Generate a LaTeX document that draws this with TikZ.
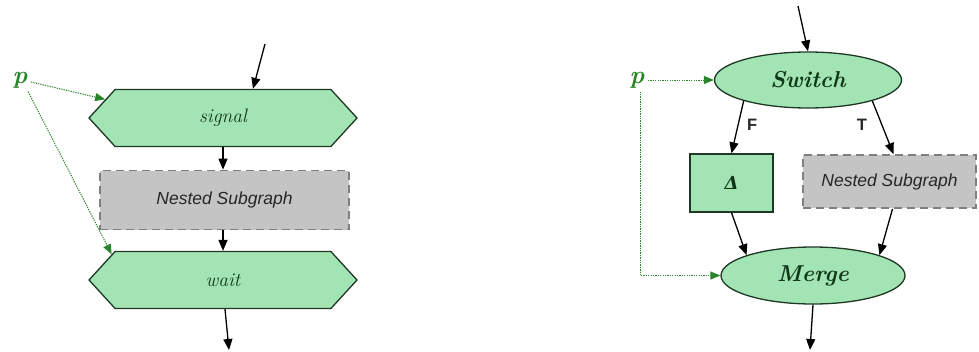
\documentclass[tikz,border=0pt]{standalone}
\usepackage{fontspec}
\setsansfont{Liberation Sans}
\newfontfamily\deltafont{DejaVu Serif}
\usetikzlibrary{shapes.geometric,shapes.symbols,arrows.meta,calc}
\definecolor{mint}{HTML}{A3E4B5}
\definecolor{edgegreen}{HTML}{1F3824}
\definecolor{txtgreen}{HTML}{0F3819}
\definecolor{boxgray}{HTML}{C4C4C4}
\definecolor{dashgray}{HTML}{7F7F7F}
\definecolor{pgreen}{HTML}{2A852A}
\begin{document}
\begin{tikzpicture}[x=1pt,y=-1pt,
  hexbox/.style={signal, signal to=east and west, signal pointer angle=95,
    draw=edgegreen, fill=mint, line width=1.3pt, minimum width=268pt,
    minimum height=57pt, inner sep=0pt, text=txtgreen,
    font=\fontsize{19.5}{21}\selectfont\itshape},
  ovalbox/.style={ellipse, draw=edgegreen, fill=mint, line width=1.3pt,
    inner sep=0pt, text=txtgreen,
    font=\fontsize{23}{25}\selectfont\bfseries\itshape},
  sqbox/.style={rectangle, draw=edgegreen, fill=mint, line width=1.3pt,
    inner sep=0pt, text=txtgreen},
  nestbox/.style={rectangle, draw=dashgray, fill=boxgray, line width=1.8pt,
    dash pattern=on 8pt off 5pt, inner sep=0pt, text=black!85,
    font=\sffamily\itshape\fontsize{17.5}{19}\selectfont},
  plabel/.style={text=pgreen, font=\fontsize{25}{27}\selectfont\bfseries\itshape},
  edgelabel/.style={font=\sffamily\bfseries\fontsize{16.5}{18}\selectfont, text=black!85},
  arr/.style={-{Triangle[length=11pt,width=9pt]}, line width=1.3pt, black},
  dotarr/.style={-{Triangle[length=10pt,width=8pt]}, pgreen, line width=1pt,
    dash pattern=on 1.3pt off 1.1pt},
]
\useasboundingbox (0,0) rectangle (979,351);

% left diagram
\node[hexbox] (sig) at (223,118) {signal};
\node[nestbox, minimum width=249pt, minimum height=59pt] (ns1) at (224.5,200) {Nested Subgraph};
\node[hexbox] (wait) at (223,280) {wait};
\node[plabel] (pl) at (20,80) {p};
\coordinate (in1) at (265,44);
\coordinate (out1) at (229,350);

\draw[arr] (in1) -- ([xshift=30pt]sig.north);
\draw[arr] (sig.south) -- (sig.south |- ns1.north);
\draw[arr] (ns1.south -| wait.north) -- (wait.north);
\draw[arr] ([xshift=2pt]wait.south) -- (out1);
\draw[dotarr] ([yshift=-2pt]pl.east) -- (sig.171);
\draw[dotarr] (pl.-55) -- (wait.167);

% right diagram
\node[ovalbox, minimum width=187pt, minimum height=56pt] (sw) at (808,80) {Switch};
\node[sqbox, minimum width=83pt, minimum height=58pt] (delta) at (731.5,183)
  {\deltafont\bfseries\itshape\fontsize{18}{20}\selectfont Δ};
\node[nestbox, minimum width=173pt, minimum height=53pt] (ns2) at (889.5,181.5) {Nested Subgraph};
\node[ovalbox, minimum width=184pt, minimum height=57pt] (mg) at (813,275.5) {Merge};
\node[plabel] (pr) at (637,80) {p};
\coordinate (in2) at (798,6);
\coordinate (out2) at (810,350);

\draw[arr] (in2) -- (sw.north);
\draw[arr] (sw.198) -- node[edgelabel, right, pos=0.45, xshift=5pt] {F} (delta.north);
\draw[arr] (sw.-18) -- node[edgelabel, left, pos=0.45, xshift=-11pt] {T} ([xshift=4pt]ns2.north);
\draw[arr] (delta.south) -- (mg.163);
\draw[arr] ([xshift=3pt]ns2.south) -- (mg.17);
\draw[arr] (mg.south) -- (out2);
\draw[dotarr] (pr.east) -- (sw.west);
\draw[dotarr] ([xshift=3pt]pr.south) |- (mg.west);
\end{tikzpicture}
\end{document}
